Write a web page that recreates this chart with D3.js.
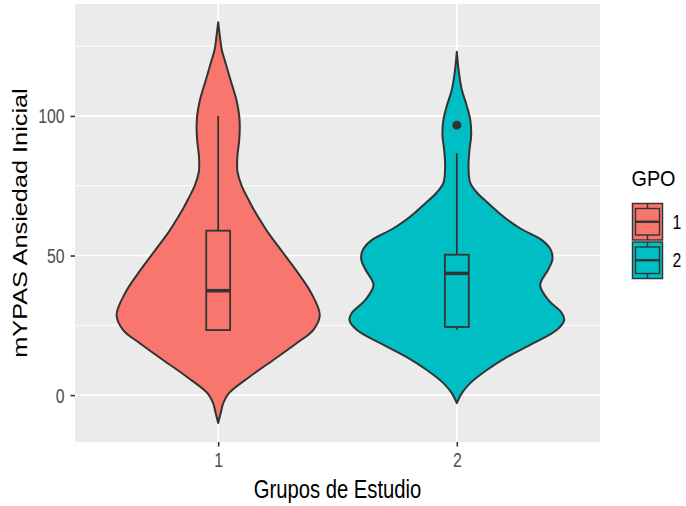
<!DOCTYPE html>
<html>
<head>
<meta charset="utf-8">
<script src="https://cdn.jsdelivr.net/npm/d3@7/dist/d3.min.js"></script>
<style>
  html, body { margin: 0; padding: 0; background: #ffffff; }
  svg { display: block; font-family: "Liberation Sans", Arial, Helvetica, sans-serif; }
</style>
</head>
<body>
<svg id="chart" width="686" height="506"></svg>
<script>
// ---------------- data ----------------
const categories = ["1", "2"];
const fillColors = ["#F8766D", "#00BFC4"];
const yTicks = [0, 50, 100];
const yMinorTicks = [25, 75, 125];

// violin outlines: value along y, relative half-width (1 = widest violin)
const violin1Values = [-10, -6.5, -2.9, 0.7, 6.5, 12.5, 18.6, 23.3, 28.7, 36.6, 43.7, 50.9, 58, 62.7, 66, 69.9, 75, 80, 85, 91.4, 96, 100, 105.7, 112.9, 120.1, 123.7, 127.2, 133.6];
const violin1Widths = [0, 0.023, 0.047, 0.10, 0.29, 0.51, 0.73, 0.885, 0.946, 0.866, 0.745, 0.606, 0.468, 0.39, 0.338, 0.284, 0.218, 0.18, 0.178, 0.196, 0.201, 0.196, 0.17, 0.115, 0.06, 0.033, 0.02, 0];

const violin2Values = [-2.9, 0.7, 4.3, 9, 13.6, 18.6, 23.3, 26.9, 29.4, 34, 39.4, 44.9, 48.5, 52, 55.6, 59.5, 62.7, 65.5, 68.8, 72.4, 76, 82, 87.8, 93.2, 98.6, 103.6, 109.3, 115.4, 123];
const violin2Widths = [0, 0.047, 0.125, 0.28, 0.466, 0.714, 0.93, 1.0, 0.978, 0.854, 0.776, 0.85, 0.89, 0.875, 0.79, 0.6, 0.475, 0.385, 0.29, 0.19, 0.125, 0.109, 0.118, 0.134, 0.125, 0.093, 0.047, 0.02, 0];

// boxplot stats: lower whisker, Q1, median, Q3, upper whisker
const boxLower = [23.3, 23.3];
const boxQ1 = [23.3, 24.4];
const boxMedian = [37.4, 43.6];
const boxQ3 = [58.9, 50.3];
const boxUpper = [100, 86.6];
const outlierGroup = ["2"];
const outlierValue = [96.7];

const xTitle = "Grupos de Estudio";
const yTitle = "mYPAS Ansiedad Inicial";
const legendTitle = "GPO";

// ---------------- layout ----------------
const svg = d3.select("#chart");
const P = { left: 75, right: 600, top: 4, bottom: 442 };
const SQ = 0.81; // horizontal text squeeze of the reference

const x = d3.scalePoint().domain(categories).range([P.left, P.right]).padding(0.6);
const step = x.step();
const y = d3.scaleLinear().domain([-16.8, 140.1]).range([P.bottom, P.top]);
const color = d3.scaleOrdinal().domain(categories).range(fillColors);

// panel
svg.append("rect").attr("x", P.left).attr("y", P.top)
  .attr("width", P.right - P.left).attr("height", P.bottom - P.top).attr("fill", "#EBEBEB");

const grid = svg.append("g");
grid.selectAll(".minor").data(yMinorTicks).join("line")
  .attr("x1", P.left).attr("x2", P.right)
  .attr("y1", d => y(d)).attr("y2", d => y(d))
  .attr("stroke", "#ffffff").attr("stroke-width", 0.9);
grid.selectAll(".major").data(yTicks).join("line")
  .attr("x1", P.left).attr("x2", P.right)
  .attr("y1", d => y(d)).attr("y2", d => y(d))
  .attr("stroke", "#ffffff").attr("stroke-width", 1.7);
grid.selectAll(".vmajor").data(categories).join("line")
  .attr("x1", d => x(d)).attr("x2", d => x(d))
  .attr("y1", P.top).attr("y2", P.bottom)
  .attr("stroke", "#ffffff").attr("stroke-width", 1.7);

// violins
const maxHalf = 0.45 * step;
const violins = [
  { cat: "1", v: violin1Values, w: violin1Widths },
  { cat: "2", v: violin2Values, w: violin2Widths }
];
violins.forEach(vi => {
  const pts = vi.v.map((v, i) => ({ v: v, w: vi.w[i] }));
  const cx = x(vi.cat);
  const area = d3.area()
    .curve(d3.curveCatmullRom.alpha(0.5))
    .y(d => y(d.v))
    .x0(d => cx - d.w * maxHalf)
    .x1(d => cx + d.w * maxHalf);
  svg.append("path").datum(pts).attr("d", area)
    .attr("fill", color(vi.cat)).attr("stroke", "#333333").attr("stroke-width", 2)
    .attr("stroke-linejoin", "round");
});

// boxplots
const boxHalf = 0.05 * step;
categories.forEach((c, i) => {
  const cx = x(c);
  const g = svg.append("g");
  g.append("line").attr("x1", cx).attr("x2", cx).attr("y1", y(boxQ3[i])).attr("y2", y(boxUpper[i]))
    .attr("stroke", "#333333").attr("stroke-width", 1.8);
  g.append("line").attr("x1", cx).attr("x2", cx).attr("y1", y(boxQ1[i])).attr("y2", y(boxLower[i]))
    .attr("stroke", "#333333").attr("stroke-width", 1.8);
  g.append("rect").attr("x", cx - boxHalf).attr("width", 2 * boxHalf)
    .attr("y", y(boxQ3[i])).attr("height", y(boxQ1[i]) - y(boxQ3[i]))
    .attr("fill", color(c)).attr("stroke", "#333333").attr("stroke-width", 1.8);
  g.append("line").attr("x1", cx - boxHalf).attr("x2", cx + boxHalf)
    .attr("y1", y(boxMedian[i])).attr("y2", y(boxMedian[i]))
    .attr("stroke", "#333333").attr("stroke-width", 3.5);
});
svg.selectAll(".outlier").data(outlierValue).join("circle")
  .attr("cx", (d, i) => x(outlierGroup[i])).attr("cy", d => y(d)).attr("r", 4.5)
  .attr("fill", "#333333");

// axes
const yAxis = svg.append("g").attr("transform", `translate(${P.left},0)`)
  .call(d3.axisLeft(y).tickValues(yTicks).tickSize(4.5).tickPadding(0).tickFormat(d3.format("d")));
yAxis.select(".domain").remove();
yAxis.selectAll(".tick line").attr("stroke", "#333333").attr("stroke-width", 1.6);
yAxis.selectAll(".tick text")
  .attr("x", null).attr("dy", "0.36em")
  .attr("transform", `translate(-10.5,0) scale(${SQ},1)`)
  .attr("font-size", 19.5).attr("fill", "#4D4D4D")
  .attr("font-family", "Liberation Sans, Arial, sans-serif");

const xAxis = svg.append("g").attr("transform", `translate(0,${P.bottom})`)
  .call(d3.axisBottom(x).tickSize(4.5).tickPadding(0));
xAxis.select(".domain").remove();
xAxis.selectAll(".tick line").attr("stroke", "#333333").attr("stroke-width", 1.6);
xAxis.selectAll(".tick text")
  .attr("y", null).attr("dy", null)
  .attr("transform", `translate(0,25) scale(${SQ},1)`)
  .attr("font-size", 19.5).attr("fill", "#4D4D4D")
  .attr("font-family", "Liberation Sans, Arial, sans-serif");

// titles
svg.append("text")
  .attr("transform", `translate(${(P.left + P.right) / 2},498) scale(${SQ},1)`)
  .attr("text-anchor", "middle").attr("font-size", 25).attr("fill", "#000")
  .text(xTitle);
svg.append("text")
  .attr("transform", `translate(27,${(P.top + P.bottom) / 2}) rotate(-90) scale(1,${SQ})`)
  .attr("text-anchor", "middle").attr("font-size", 25.3).attr("fill", "#000")
  .text(yTitle);

// legend
const lg = svg.append("g");
lg.append("text").attr("transform", `translate(631.5,185.5) scale(0.9,1)`)
  .attr("font-size", 22).attr("fill", "#000").text(legendTitle);
const keyX = 631.5, keyW = 32, keyH = 38.5, keyY0 = 202.5;
categories.forEach((c, i) => {
  const ky = keyY0 + i * keyH;
  const kx = keyX;
  lg.append("rect").attr("x", kx).attr("y", ky).attr("width", keyW).attr("height", keyH)
    .attr("fill", "#EBEBEB");
  lg.append("rect").attr("x", kx + 1).attr("y", ky + 1).attr("width", keyW - 2).attr("height", keyH - 2)
    .attr("fill", color(c)).attr("stroke", "#333333").attr("stroke-width", 1.4);
  const cxk = kx + keyW / 2;
  lg.append("line").attr("x1", cxk).attr("x2", cxk).attr("y1", ky + 1).attr("y2", ky + keyH - 1)
    .attr("stroke", "#333333").attr("stroke-width", 1.4);
  lg.append("rect").attr("x", kx + 4).attr("y", ky + 6).attr("width", keyW - 8).attr("height", keyH - 12)
    .attr("fill", color(c)).attr("stroke", "#333333").attr("stroke-width", 1.4);
  lg.append("line").attr("x1", kx + 4).attr("x2", kx + keyW - 4)
    .attr("y1", ky + keyH / 2).attr("y2", ky + keyH / 2)
    .attr("stroke", "#333333").attr("stroke-width", 2.4);
  lg.append("text").attr("transform", `translate(672.5,${ky + keyH / 2}) scale(${SQ},1)`)
    .attr("dy", "0.36em").attr("font-size", 19.5).attr("fill", "#000").text(c);
});
</script>
</body>
</html>
